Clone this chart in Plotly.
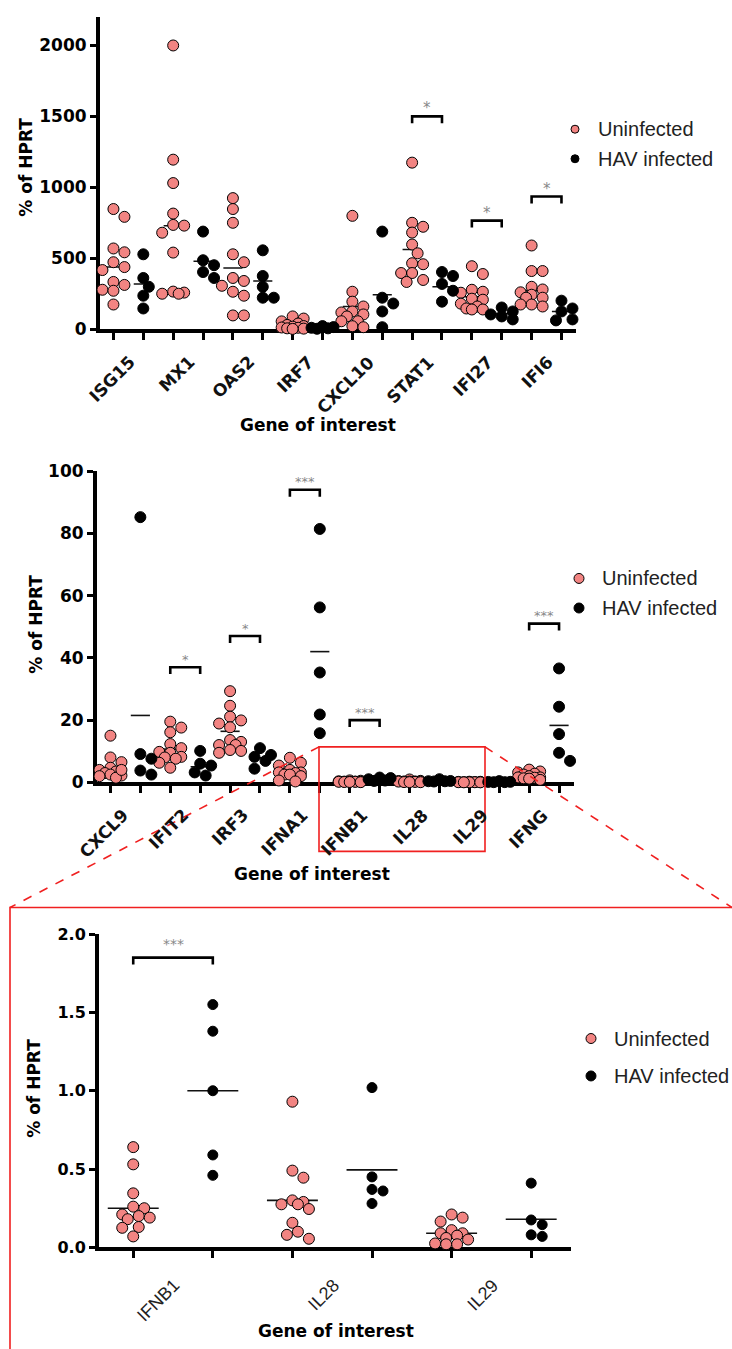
import numpy as np
import plotly.graph_objects as go

W, H = 732, 1349

# ================= DATA (% of HPRT) =================
# ---- Panel 1 ----
top_genes = ["ISG15", "MX1", "OAS2", "IRF7", "CXCL10", "STAT1", "IFI27", "IFI6"]
ISG15_uninf = [847, 569, 472, 417, 792, 542, 438, 333, 312, 278, 271, 174]
ISG15_hav = [528, 361, 299, 236, 146]
MX1_uninf = [2000, 1195, 1030, 815, 730, 680, 540, 735, 265, 258, 250, 250]
MX1_hav = [688, 486, 451, 403, 361]
OAS2_uninf = [924, 847, 750, 528, 472, 361, 340, 306, 264, 236, 97, 97]
OAS2_hav = [556, 375, 299, 222, 222]
IRF7_uninf = [90, 75, 55, 40, 30, 22, 18, 12, 10, 6, 4, 2]
IRF7_hav = [22, 15, 10, 6, 3]
CXCL10_uninf = [799, 264, 194, 160, 125, 118, 104, 90, 56, 56, 21, 14]
CXCL10_hav = [688, 222, 181, 125, 14]
STAT1_uninf = [1174, 750, 722, 681, 597, 535, 465, 458, 396, 396, 347, 333]
STAT1_hav = [403, 375, 319, 271, 194]
IFI27_uninf = [444, 389, 278, 264, 257, 215, 208, 180, 160, 146, 139, 139]
IFI27_hav = [153, 125, 104, 90, 69]
IFI6_uninf = [590, 410, 410, 299, 280, 260, 243, 222, 222, 174, 174, 160]
IFI6_hav = [201, 146, 125, 69, 62]
top_mean_uninf = [438, 729, 431, 28, 160, 562, 229, 271]
top_mean_hav = [319, 479, 340, 9, 243, 299, 110, 125]
top_yticks = [0, 500, 1000, 1500, 2000]
top_sig_genes = ["STAT1", "IFI27", "IFI6"]
top_sig_level = [1500, 765, 935]
top_sig_text = ["*", "*", "*"]

# ---- Panel 2 ----
mid_genes = ["CXCL9", "IFIT2", "IRF3", "IFNA1", "IFNB1", "IL28", "IL29", "IFNG"]
CXCL9_uninf = [15, 8, 6.5, 4.7, 4, 3.5, 3, 2.5, 2.2, 2, 1.5, 4]
CXCL9_hav = [85.2, 9.1, 7.6, 3.8, 2.5]
IFIT2_uninf = [19.5, 17.6, 16.1, 12.3, 11, 9.8, 9.5, 8.2, 8, 7.6, 6.3, 4.7]
IFIT2_hav = [10.1, 6.0, 5.4, 3.2, 2.2]
IRF3_uninf = [29.3, 24.6, 21.1, 19.9, 18.9, 17.7, 13.6, 13, 12, 12, 10.4, 10.1, 9.5]
IRF3_hav = [11, 8.8, 8.2, 6.9, 4.4]
IFNA1_uninf = [7.9, 6.3, 5.4, 4, 3.2, 3.2, 3, 2.5, 2.5, 2, 0.6, 0.3]
IFNA1_hav = [81.4, 56.2, 35.3, 21.8, 15.8]
IFNB1_uninf = [0.64, 0.53, 0.345, 0.26, 0.25, 0.21, 0.20, 0.19, 0.18, 0.13, 0.125, 0.07]
IFNB1_hav = [1.55, 1.38, 1.00, 0.59, 0.46]
IL28_uninf = [0.93, 0.49, 0.445, 0.30, 0.29, 0.275, 0.275, 0.245, 0.157, 0.10, 0.08, 0.055]
IL28_hav = [1.02, 0.45, 0.37, 0.36, 0.28]
IL29_uninf = [0.21, 0.19, 0.165, 0.11, 0.09, 0.09, 0.075, 0.06, 0.05, 0.025, 0.02, 0.02]
IL29_hav = [0.41, 0.175, 0.145, 0.08, 0.07]
IFNG_uninf = [4.1, 3.5, 3.2, 2.8, 2.5, 2, 1.6, 1.6, 1.5, 1.3, 1.2, 0.8]
IFNG_hav = [36.6, 24.3, 15.5, 9.5, 6.9]
mid_mean_uninf = [4.7, 10.7, 16.4, 3.5, 0.25, 0.30, 0.09, 2.2]
mid_mean_hav = [21.5, 5.0, 7.9, 42.0, 1.0, 0.495, 0.18, 18.3]
mid_yticks = [0, 20, 40, 60, 80, 100]
mid_sig_genes = ["IFIT2", "IRF3", "IFNA1", "IFNB1", "IFNG"]
mid_sig_level = [37, 47, 94, 20, 51]
mid_sig_text = ["*", "*", "***", "***", "***"]

# ---- Panel 3 (zoom of IFNB1, IL28, IL29) ----
bot_genes = ["IFNB1", "IL28", "IL29"]
bot_mean_uninf = [0.25, 0.30, 0.09]
bot_mean_hav = [1.0, 0.495, 0.18]
bot_yticks = [0.0, 0.5, 1.0, 1.5, 2.0]
bot_sig_genes = ["IFNB1"]
bot_sig_level = [1.85]
bot_sig_text = ["***"]

series_names = ["Uninfected", "HAV infected"]

top_uninf = [ISG15_uninf, MX1_uninf, OAS2_uninf, IRF7_uninf, CXCL10_uninf, STAT1_uninf, IFI27_uninf, IFI6_uninf]
top_hav = [ISG15_hav, MX1_hav, OAS2_hav, IRF7_hav, CXCL10_hav, STAT1_hav, IFI27_hav, IFI6_hav]
mid_uninf = [CXCL9_uninf, IFIT2_uninf, IRF3_uninf, IFNA1_uninf, IFNB1_uninf, IL28_uninf, IL29_uninf, IFNG_uninf]
mid_hav = [CXCL9_hav, IFIT2_hav, IRF3_hav, IFNA1_hav, IFNB1_hav, IL28_hav, IL29_hav, IFNG_hav]
bot_uninf = [IFNB1_uninf, IL28_uninf, IL29_uninf]
bot_hav = [IFNB1_hav, IL28_hav, IL29_hav]

# ================= STYLE / GEOMETRY =================
PINK = "#F28482"
FONT_B = "DejaVu Sans"
FONT_R = "Liberation Sans"


def pxx(x):
    return x / W


def pxy(y):
    return 1 - y / H


panels = [
    dict(name="top", xa="x", ya="y", xdom=(100, 576.4), xr=(-0.45, 15.5), ydom=(324, 7.2), yr=(0, 2200),
         genes=top_genes, uninf=top_uninf, hav=top_hav, mu=top_mean_uninf, mh=top_mean_hav,
         yticks=top_yticks, tickfmt="d", tfs=17, sig=(top_sig_genes, top_sig_level, top_sig_text),
         msize=11, maxoff=13, lab_font=dict(family=FONT_B, size=17, color="#111", weight="bold"),
         lab_dx=0.44, lab_dy=20, star_fs=15, star_dy=8,
         xtitle=(318, 421), ytitle=(26, 160), legend=(575, 121, 151, 8)),
    dict(name="mid", xa="x2", ya="y2", xdom=(97, 574), xr=(-0.45, 15.5), ydom=(784, 468), yr=(0, 100),
         genes=mid_genes, uninf=mid_uninf, hav=mid_hav, mu=mid_mean_uninf, mh=mid_mean_hav,
         yticks=mid_yticks, tickfmt="d", tfs=17, sig=(mid_sig_genes, mid_sig_level, mid_sig_text),
         msize=11, maxoff=14, lab_font=dict(family=FONT_B, size=17, color="#111", weight="bold"),
         lab_dx=0.34, lab_dy=20, star_fs=13, star_dy=8,
         xtitle=(312, 877), ytitle=(36, 624), legend=(579, 577, 607, 10)),
    dict(name="bot", xa="x3", ya="y3", xdom=(99, 571), xr=(-0.43, 5.5), ydom=(1256, 938), yr=(0, 2.0),
         genes=bot_genes, uninf=bot_uninf, hav=bot_hav, mu=bot_mean_uninf, mh=bot_mean_hav,
         yticks=bot_yticks, tickfmt=".1f", tfs=16, sig=(bot_sig_genes, bot_sig_level, bot_sig_text),
         msize=11, maxoff=20, lab_font=dict(family=FONT_R, size=18, color="#222"),
         lab_dx=0.17, lab_dy=25, star_fs=14, star_dy=14,
         xtitle=(336, 1341), ytitle=(34, 1095), legend=(591, 1044, 1082, 10)),
]


def swarm(vals, sx, sy, d, maxoff):
    """Deterministic beeswarm: horizontal pixel offsets so markers don't overlap."""
    vals = np.asarray(vals, float)
    order = np.argsort(-vals, kind="stable")
    step = d * 0.5
    cands = [0.0]
    k = 1
    while k * step <= maxoff + 1e-9:
        cands += [k * step, -k * step]
        k += 1
    placed = []
    offs = np.zeros(len(vals))
    for i in order:
        yp = vals[i] * sy
        chosen, best_c, best_d = None, 0.0, -1.0
        for c in cands:
            md = min([np.hypot(c - a, yp - b) for a, b in placed], default=1e9)
            if md >= 0.9 * d:
                chosen = c
                break
            if md > best_d:
                best_d, best_c = md, c
        if chosen is None:
            chosen = best_c
        placed.append((chosen, yp))
        offs[i] = chosen / sx
    return offs


fig = go.Figure()
annotations = []
shapes = []
layout_axes = {}

for pi, P in enumerate(panels):
    sx = (P["xdom"][1] - P["xdom"][0]) / (P["xr"][1] - P["xr"][0])
    sy = (P["ydom"][0] - P["ydom"][1]) / (P["yr"][1] - P["yr"][0])
    ng = len(P["genes"])
    d = P["msize"]

    # mean lines
    mx, my = [], []
    for g in range(ng):
        for k, m in enumerate((P["mu"][g], P["mh"][g])):
            c = 2 * g + k
            mx += [c - 0.32, c + 0.32, None]
            my += [m, m, None]
    fig.add_trace(go.Scatter(x=mx, y=my, mode="lines", xaxis=P["xa"], yaxis=P["ya"],
                             line=dict(color="#111", width=1.6), showlegend=False,
                             hoverinfo="skip", cliponaxis=False))

    # significance brackets
    sg, sl, st = P["sig"]
    bx, by = [], []
    t = 7 / sy
    for gname, lev, txt in zip(sg, sl, st):
        g = P["genes"].index(gname)
        x1, x2 = 2 * g, 2 * g + 1
        bx += [x1, x1, x2, x2, None]
        by += [lev - t, lev, lev, lev - t, None]
        annotations.append(dict(x=(x1 + x2) / 2, y=lev, xref=P["xa"], yref=P["ya"], text=txt,
                                showarrow=False, yanchor="middle", yshift=P["star_dy"],
                                font=dict(family=FONT_B, size=P["star_fs"], color="#888")))
    fig.add_trace(go.Scatter(x=bx, y=by, mode="lines", xaxis=P["xa"], yaxis=P["ya"],
                             line=dict(color="black", width=2.6), showlegend=False,
                             hoverinfo="skip", cliponaxis=False))

    # points
    for k, (groups, name) in enumerate(((P["uninf"], series_names[0]), (P["hav"], series_names[1]))):
        xs, ys = [], []
        for g, vals in enumerate(groups):
            offs = swarm(vals, sx, sy, d, P["maxoff"])
            xs += list(2 * g + k + offs)
            ys += list(vals)
        if k == 0:
            marker = dict(size=d, color=PINK, line=dict(color="black", width=1))
        else:
            marker = dict(size=d - (1 if P["name"] == "bot" else 0), color="black",
                          line=dict(color="black", width=1))
        fig.add_trace(go.Scatter(x=xs, y=ys, mode="markers", name=name, xaxis=P["xa"], yaxis=P["ya"],
                                 marker=marker, showlegend=False, cliponaxis=False))

    # axes
    xkey = "xaxis" if pi == 0 else f"xaxis{pi + 1}"
    ykey = "yaxis" if pi == 0 else f"yaxis{pi + 1}"
    layout_axes[xkey] = dict(domain=[pxx(P["xdom"][0]), pxx(P["xdom"][1])], range=list(P["xr"]),
                             anchor=P["ya"], showline=True, linewidth=4, linecolor="black",
                             ticks="outside", ticklen=7, tickwidth=3, tickcolor="black",
                             tickvals=list(range(2 * ng)), showticklabels=False,
                             showgrid=False, zeroline=False, layer="below traces", fixedrange=True)
    layout_axes[ykey] = dict(domain=[pxy(P["ydom"][0]), pxy(P["ydom"][1])], range=list(P["yr"]),
                             anchor=P["xa"], showline=True, linewidth=4, linecolor="black",
                             ticks="outside", ticklen=6, tickwidth=3, tickcolor="black",
                             tickvals=P["yticks"], tickformat=P["tickfmt"],
                             tickfont=dict(family=FONT_B, size=P["tfs"], color="black", weight="bold"),
                             showgrid=False, zeroline=False, layer="below traces", fixedrange=True)

    # gene labels
    for g, gname in enumerate(P["genes"]):
        annotations.append(dict(x=2 * g + 0.5 + P["lab_dx"], y=0, xref=P["xa"], yref=P["ya"], text=gname,
                                showarrow=False, textangle=-45, xanchor="right", yanchor="top",
                                yshift=-P["lab_dy"], font=P["lab_font"]))

    # axis titles
    annotations.append(dict(x=pxx(P["xtitle"][0]), y=pxy(P["xtitle"][1]), xref="paper", yref="paper",
                            text="Gene of interest", showarrow=False, xanchor="center", yanchor="middle",
                            font=dict(family=FONT_B, size=17, color="black", weight="bold")))
    annotations.append(dict(x=pxx(P["ytitle"][0]), y=pxy(P["ytitle"][1]), xref="paper", yref="paper",
                            text="% of HPRT", showarrow=False, textangle=-90, xanchor="center",
                            yanchor="middle",
                            font=dict(family=FONT_B, size=17, color="black", weight="bold")))

    # legend (drawn)
    lx, ly1, ly2, lr = P["legend"]
    for yy, col, txt in ((ly1, PINK, series_names[0]), (ly2, "black", series_names[1])):
        shapes.append(dict(type="circle", xref="paper", yref="paper", xsizemode="pixel", ysizemode="pixel",
                           xanchor=pxx(lx), yanchor=pxy(yy), x0=-lr / 2, x1=lr / 2, y0=-lr / 2, y1=lr / 2,
                           fillcolor=col, line=dict(color="black", width=1)))
        annotations.append(dict(x=pxx(lx + 21), y=pxy(yy), xref="paper", yref="paper", text=txt,
                                showarrow=False, xanchor="left", yanchor="middle",
                                font=dict(family=FONT_R, size=20, color="#222")))

# red zoom indicators
RED = "#F02020"
shapes.append(dict(type="rect", xref="paper", yref="paper", x0=pxx(319), x1=pxx(485), y0=pxy(854), y1=pxy(748),
                   line=dict(color=RED, width=1.6)))
shapes.append(dict(type="line", xref="paper", yref="paper", x0=pxx(319), y0=pxy(748), x1=pxx(10), y1=pxy(911),
                   line=dict(color=RED, width=1.6, dash="dash")))
shapes.append(dict(type="line", xref="paper", yref="paper", x0=pxx(485), y0=pxy(748), x1=pxx(732), y1=pxy(911),
                   line=dict(color=RED, width=1.6, dash="dash")))
shapes.append(dict(type="rect", xref="paper", yref="paper", x0=pxx(10), x1=pxx(740), y0=pxy(1365), y1=pxy(911),
                   line=dict(color=RED, width=1.6)))

fig.update_layout(width=W, height=H, margin=dict(l=0, r=0, t=0, b=0), autosize=False,
                  paper_bgcolor="white", plot_bgcolor="white", showlegend=False,
                  annotations=annotations, shapes=shapes, **layout_axes)

fig.write_html("out.html", include_plotlyjs=True, config={"displayModeBar": False})
